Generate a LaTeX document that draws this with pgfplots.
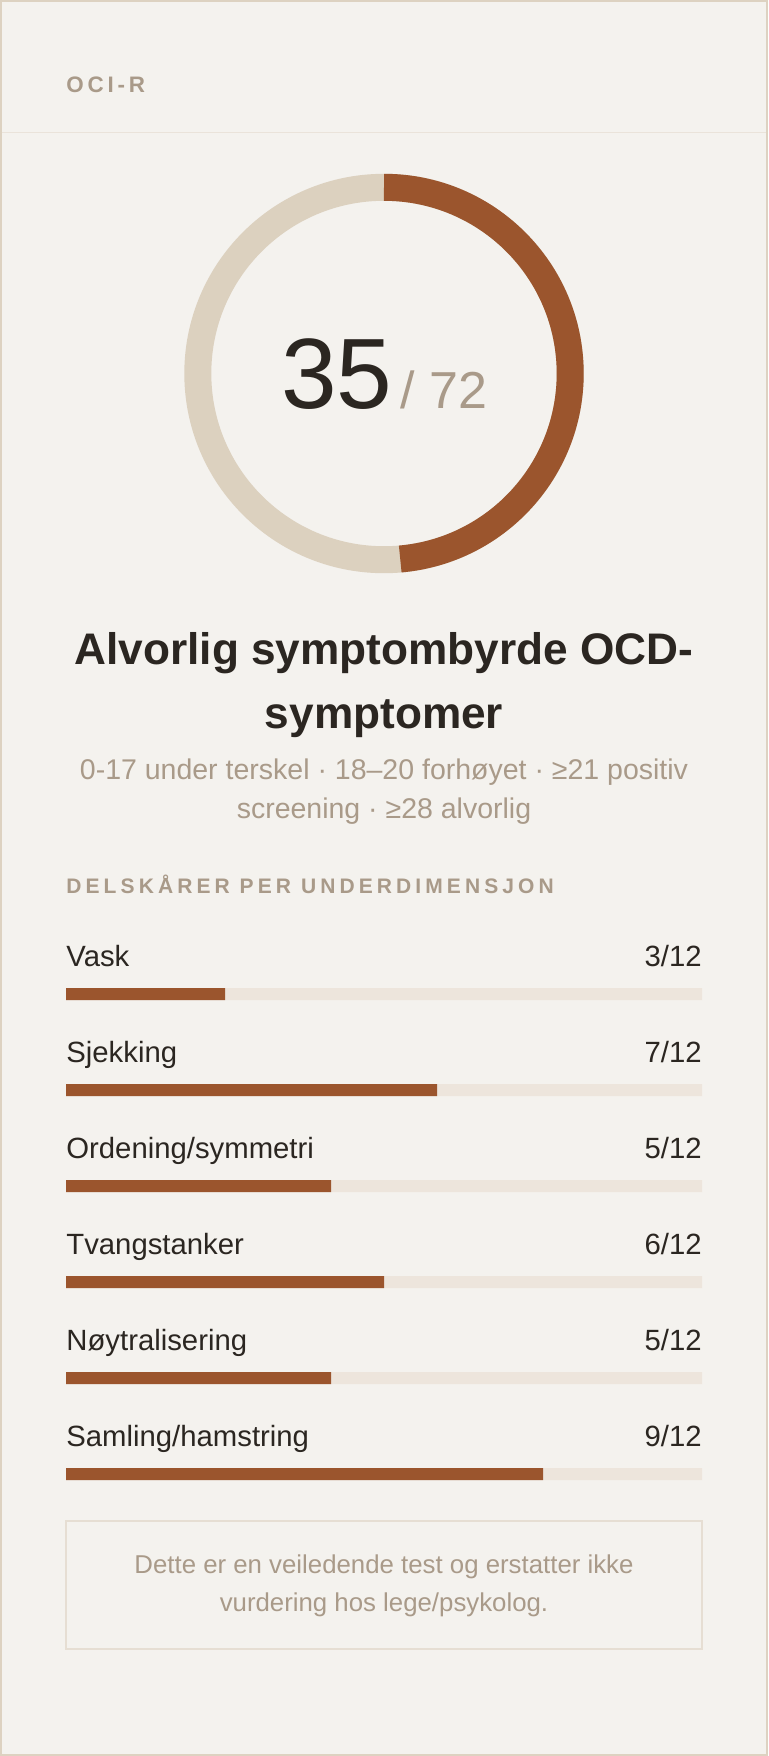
\documentclass[border=0pt]{standalone}
\usepackage{pgfplots}
\pgfplotsset{compat=1.18}
\usepackage{pgfplotstable}
\usepackage{fontspec}
\setmainfont{Liberation Sans}
\newfontfamily\spacedfont[LetterSpace=17]{Liberation Sans}
\newfontfamily\widespacedfont[LetterSpace=19.5]{Liberation Sans}
\definecolor{bg}{HTML}{F4F2EE}
\definecolor{frame}{HTML}{DDD2C1}
\definecolor{sep}{HTML}{EAE3DA}
\definecolor{ring}{HTML}{DCD1BF}
\definecolor{accent}{HTML}{9B552D}
\definecolor{track}{HTML}{EDE5DC}
\definecolor{ink}{HTML}{2B2621}
\definecolor{muted}{HTML}{A99A89}
\definecolor{boxline}{HTML}{E6DED3}

\pgfplotstableread{
row score max
1 3 12
2 7 12
3 5 12
4 6 12
5 5 12
6 9 12
}\subscores
\pgfplotstableread{
score max
35 72
}\total
\pgfplotstablegetelem{0}{score}\of\total \edef\totscore{\pgfplotsretval}
\pgfplotstablegetelem{0}{max}\of\total \edef\totmax{\pgfplotsretval}
\pgfmathsetmacro\endang{90-360*\totscore/\totmax}

\begin{document}
\begin{tikzpicture}
\useasboundingbox (0,0) rectangle (384pt,878pt);
\begin{axis}[at={(0pt,0pt)}, anchor=south west, width=384pt, height=878pt,
  scale only axis, xmin=0, xmax=768, ymin=0, ymax=1756, y dir=reverse,
  hide axis, clip=false]
\fill[bg] (0,0) rectangle (768,1756);
\draw[frame, line width=1pt] (1,1) rectangle (767,1755);
\draw[sep, line width=0.75pt] (2,132.5) -- (766,132.5);
\node[anchor=base west, inner sep=0, text=muted, font=\spacedfont\bfseries\fontsize{11.2}{13}\selectfont] at (66,92.3) {OCI-R};
% donut gauge
\draw[ring, line width=13.5pt] (384,373.5) circle[radius=93.1pt];
\draw[accent, line width=13.5pt] (384,373.5) ++(90:93.1pt) arc[start angle=90, end angle=\endang, radius=93.1pt];
\node[anchor=base, inner sep=0] at (384,408) {{\color{ink}\fontsize{50}{50}\selectfont \totscore}\hspace{4pt}{\color{muted}\fontsize{26}{26}\selectfont / \totmax}};
% title
\node[anchor=base, inner sep=0, text=ink, font=\bfseries\fontsize{22.1}{26}\selectfont] at (384,664) {Alvorlig symptombyrde OCD-};
\node[anchor=base, inner sep=0, text=ink, font=\bfseries\fontsize{22.1}{26}\selectfont] at (384,728.3) {symptomer};
\node[anchor=base, inner sep=0, text=muted, font=\fontsize{14.25}{16}\selectfont] at (384,779) {0-17 under terskel · 18–20 forhøyet · ≥21 positiv};
\node[anchor=base, inner sep=0, text=muted, font=\fontsize{14.25}{16}\selectfont] at (384,818.3) {screening · ≥28 alvorlig};
\node[anchor=base west, inner sep=0, text=muted, font=\widespacedfont\bfseries\fontsize{10.5}{12}\selectfont] at (66,893) {DELSKÅRER PER UNDERDIMENSJON};
% disclaimer
\draw[boxline, line width=1pt] (66,1521) rectangle (702,1649);
\node[anchor=base, inner sep=0, text=muted, font=\fontsize{12.9}{15}\selectfont] at (384,1573) {Dette er en veiledende test og erstatter ikke};
\node[anchor=base, inner sep=0, text=muted, font=\fontsize{12.9}{15}\selectfont] at (384,1611.7) {vurdering hos lege/psykolog.};
\end{axis}

\begin{axis}[at={(33pt,117pt)}, anchor=south west, width=318pt, height=288pt,
  scale only axis, xmin=0, xmax=12, ymin=0.5, ymax=6.5, y dir=reverse,
  hide axis, clip=false, xbar, bar width=6pt]
\addplot[fill=track, draw=none, bar shift=0pt] table[x=max, y=row] {\subscores};
\addplot[fill=accent, draw=none, bar shift=0pt] table[x=score, y=row] {\subscores};
\tikzset{lab/.style={anchor=base west, inner sep=0, text=ink, yshift=13.65pt, font=\fontsize{14.65}{17}\selectfont},
         val/.style={anchor=base east, inner sep=0, text=ink, yshift=13.65pt, font=\fontsize{14.65}{17}\selectfont}}
\node[lab] at (axis cs:0,1) {Vask};
\node[val] at (axis cs:12,1) {3/12};
\node[lab] at (axis cs:0,2) {Sjekking};
\node[val] at (axis cs:12,2) {7/12};
\node[lab] at (axis cs:0,3) {Ordening/symmetri};
\node[val] at (axis cs:12,3) {5/12};
\node[lab] at (axis cs:0,4) {Tvangstanker};
\node[val] at (axis cs:12,4) {6/12};
\node[lab] at (axis cs:0,5) {Nøytralisering};
\node[val] at (axis cs:12,5) {5/12};
\node[lab] at (axis cs:0,6) {Samling/hamstring};
\node[val] at (axis cs:12,6) {9/12};
\end{axis}
\end{tikzpicture}
\end{document}
